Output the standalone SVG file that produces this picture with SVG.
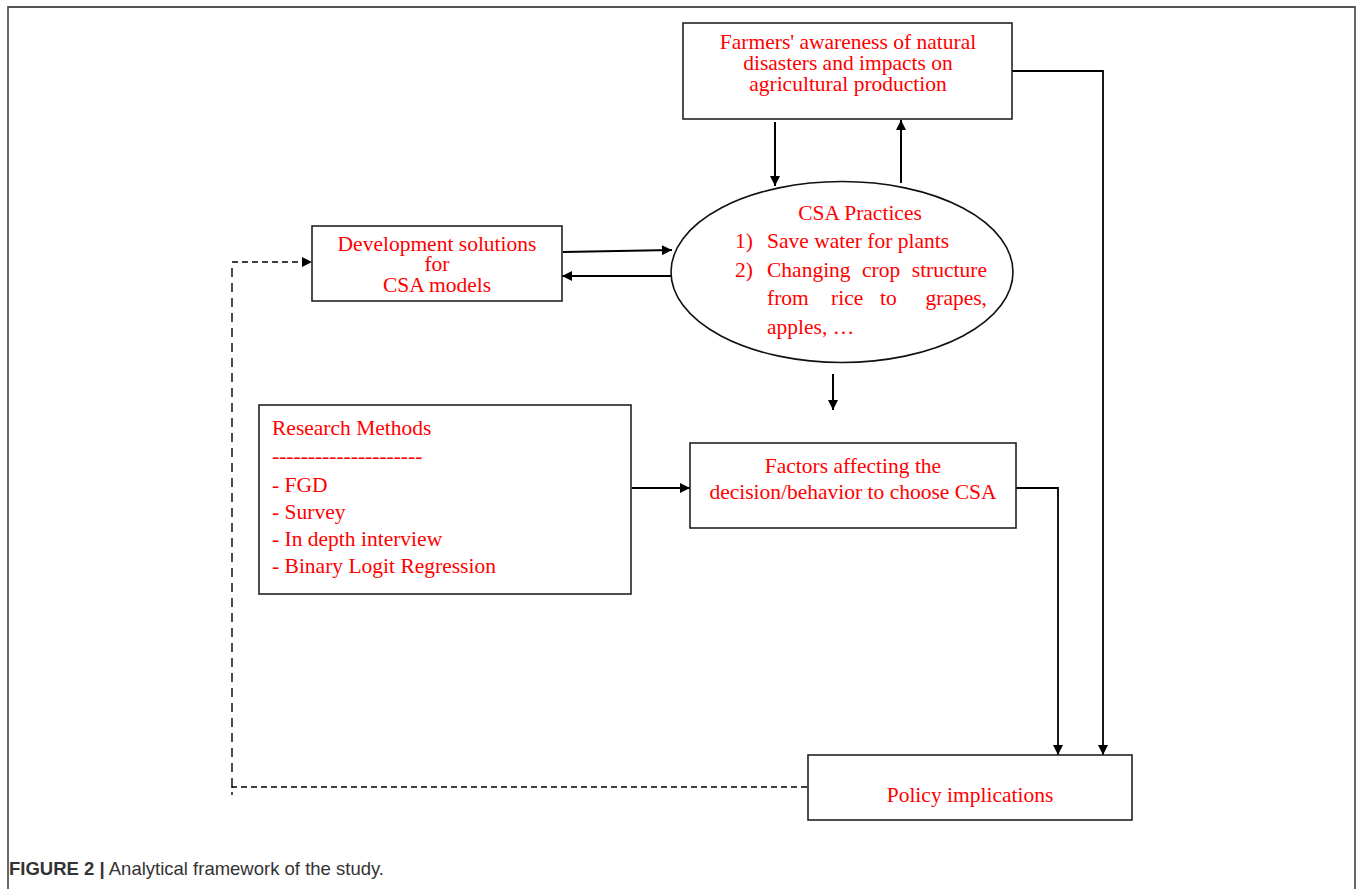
<svg xmlns="http://www.w3.org/2000/svg" width="1357" height="889" viewBox="0 0 1357 889">
<style>
.box{fill:#fff;stroke:#222;stroke-width:1.6}
.t{font-family:"Liberation Serif","Times New Roman",serif;font-size:21.5px;fill:#ff0000}
.c{stroke:#000;stroke-width:2;fill:none}
.d{stroke:#000;stroke-width:1.4;fill:none;stroke-dasharray:6,4}
.frame{stroke:#555;stroke-width:1.8;fill:none}
</style>
<defs>
<marker id="ah" viewBox="0 0 10 10" refX="10" refY="5" markerWidth="11" markerHeight="10" orient="auto" markerUnits="userSpaceOnUse">
<path d="M0,0 L10,5 L0,10 z" fill="#000"/>
</marker>
</defs>
<rect width="1357" height="889" fill="#fff"/>
<path class="frame" d="M8,889 V7 H1355 V889"/>

<g id="connectors">
<path class="c" d="M775,122 V186" marker-end="url(#ah)"/>
<path class="c" d="M901,183 V120" marker-end="url(#ah)"/>
<path class="c" d="M563,252 L672,250" marker-end="url(#ah)"/>
<path class="c" d="M671,276 H562" marker-end="url(#ah)"/>
<path class="c" d="M833,374 V410" marker-end="url(#ah)"/>
<path class="c" d="M632,488 H690" marker-end="url(#ah)"/>
<path class="c" style="stroke-width:1.8" d="M1013,488 H1058 V755" marker-end="url(#ah)"/>
<path class="c" style="stroke-width:1.8" d="M1012,71 H1103 V755" marker-end="url(#ah)"/>
<path class="d" d="M807,787 H232 V795"/>
<path class="d" style="stroke-dasharray:9,6" d="M232,787 V262"/>
<path class="d" d="M232,262 H312" marker-end="url(#ah)"/>
</g>

<g id="farmers">
<rect class="box" x="683" y="23" width="329" height="96"/>
<text class="t" text-anchor="middle"><tspan x="848" y="49">Farmers' awareness of natural</tspan><tspan x="848" y="70">disasters and impacts on</tspan><tspan x="848" y="91">agricultural production</tspan></text>
</g>

<g id="csa">
<ellipse cx="842" cy="272" rx="171" ry="90.5" fill="#fff" stroke="#111" stroke-width="1.6"/>
<text class="t" x="860" y="220" text-anchor="middle">CSA Practices</text>
<text class="t" x="735" y="248">1)</text>
<text class="t" x="767" y="248">Save water for plants</text>
<text class="t" x="735" y="277">2)</text>
<text class="t" y="277"><tspan x="767">Changing</tspan><tspan x="862">crop</tspan></text>
<text class="t" x="987" y="277" text-anchor="end">structure</text>
<text class="t" y="305"><tspan x="767">from</tspan><tspan x="831">rice</tspan><tspan x="880">to</tspan></text>
<text class="t" x="987" y="305" text-anchor="end">grapes,</text>
<text class="t" x="767" y="334">apples, …</text>
</g>

<g id="development">
<rect class="box" x="312" y="226" width="250" height="75"/>
<text class="t" text-anchor="middle"><tspan x="437" y="251">Development solutions</tspan><tspan x="437" y="271">for</tspan><tspan x="437" y="292">CSA models</tspan></text>
</g>

<g id="research">
<rect class="box" x="259" y="405" width="372" height="189"/>
<text class="t"><tspan x="272" y="435">Research Methods</tspan><tspan x="272" y="463">---------------------</tspan><tspan x="272" y="492">- FGD</tspan><tspan x="272" y="519">- Survey</tspan><tspan x="272" y="546">- In depth interview</tspan><tspan x="272" y="573">- Binary Logit Regression</tspan></text>
</g>

<g id="factors">
<rect class="box" x="690" y="443" width="326" height="85"/>
<text class="t" text-anchor="middle"><tspan x="853" y="473">Factors affecting the</tspan><tspan x="853" y="499">decision/behavior to choose CSA</tspan></text>
</g>

<g id="policy">
<rect class="box" x="808" y="755" width="324" height="65"/>
<text class="t" x="970" y="802" text-anchor="middle">Policy implications</text>
</g>

<text x="9" y="875" font-family="'Liberation Sans',Arial,sans-serif" font-size="18.5" fill="#333"><tspan font-weight="bold">FIGURE 2 |</tspan> Analytical framework of the study.</text>
</svg>
